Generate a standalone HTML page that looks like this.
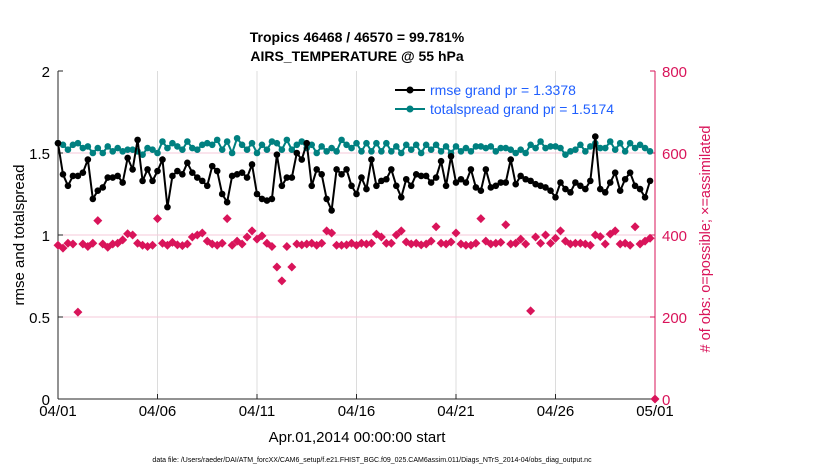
<!DOCTYPE html>
<html><head><meta charset="utf-8"><style>
body{margin:0;background:#fff;width:830px;height:470px;overflow:hidden}
svg{font-family:"Liberation Sans",sans-serif}
</style></head><body>
<svg id="chart" width="830" height="470">
<text x="357" y="42" text-anchor="middle" font-size="14" font-weight="bold">Tropics 46468 / 46570 = 99.781%</text>
<text x="357" y="61" text-anchor="middle" font-size="14" font-weight="bold">AIRS_TEMPERATURE @ 55 hPa</text>
<g id="grid"></g><g id="axes"></g><g id="marks"></g>
<text transform="translate(24,235) rotate(-90)" text-anchor="middle" font-size="15">rmse and totalspread</text>
<text transform="translate(710,239) rotate(-90)" text-anchor="middle" font-size="14.5" fill="#d9145a"># of obs: o=possible; ×=assimilated</text>
<text x="357" y="442" text-anchor="middle" font-size="15">Apr.01,2014 00:00:00 start</text>
<text x="372" y="462" text-anchor="middle" font-size="7">data file: /Users/raeder/DAI/ATM_forcXX/CAM6_setup/f.e21.FHIST_BGC.f09_025.CAM6assim.011/Diags_NTrS_2014-04/obs_diag_output.nc</text>
<g>
<line x1="395" y1="90" x2="425" y2="90" stroke="#000" stroke-width="2"/><circle cx="410" cy="90" r="3.5" fill="#000"/>
<text x="430" y="95" font-size="14" fill="#1f5fff">rmse grand pr = 1.3378</text>
<line x1="395" y1="109" x2="425" y2="109" stroke="#008080" stroke-width="2"/><circle cx="410" cy="109" r="3.5" fill="#008080"/>
<text x="430" y="114" font-size="14" fill="#1f5fff">totalspread grand pr = 1.5174</text>
</g>
</svg>
<script>
const xTicks=["04/01","04/06","04/11","04/16","04/21","04/26","05/01"];
const yTicks=[0,0.5,1,1.5,2];
const y2Ticks=[0,200,400,600,800];
const rmse=[1.56,1.37,1.30,1.36,1.36,1.38,1.46,1.22,1.27,1.29,1.35,1.35,1.36,1.32,1.47,1.40,
1.58,1.33,1.40,1.33,1.39,1.46,1.17,1.36,
1.39,1.37,1.44,1.38,1.35,1.33,1.30,1.42,1.39,1.25,1.20,1.36,1.37,1.38,1.35,1.43,
1.25,1.22,1.21,1.22,1.49,1.30,1.35,1.35,1.50,1.46,1.56,1.30,1.40,1.37,1.22,1.15,
1.40,1.37,1.40,1.30,1.25,1.35,1.28,1.46,1.30,1.33,1.34,1.40,1.30,1.23,1.34,1.30,1.37,1.36,1.36,1.32,1.35,1.45,1.30,1.48,1.32,1.34,1.32,1.40,1.29,1.27,1.40,1.29,1.30,1.32,1.32,1.46,1.31,1.36,1.34,1.33,1.31,1.30,1.29,1.27,1.23,1.32,1.28,1.26,1.32,1.30,1.28,1.33,
1.60,1.28,1.26,1.32,1.38,1.27,1.34,1.38,1.30,1.28,1.23,1.33];
const spread=[1.56,1.55,1.52,1.55,1.56,1.53,1.54,1.50,1.53,1.50,1.54,1.51,1.53,1.51,1.52,1.52,1.51,1.49,1.53,1.52,1.50,1.57,1.53,1.56,1.54,1.52,1.57,1.53,1.52,1.55,1.56,1.55,1.58,1.52,1.57,1.50,1.59,1.55,1.52,1.56,1.50,1.55,1.52,1.57,1.56,1.52,1.58,1.52,1.55,1.57,1.53,1.55,1.50,1.54,1.51,1.53,1.51,1.58,1.55,1.53,1.56,1.51,1.56,1.51,1.56,1.51,1.56,1.51,1.54,1.50,1.55,1.52,1.55,1.50,1.55,1.52,1.55,1.51,1.54,1.50,1.54,1.51,1.53,1.51,1.54,1.54,1.53,1.54,1.51,1.53,1.53,1.52,1.50,1.52,1.50,1.55,1.53,1.57,1.53,1.54,1.54,1.53,1.49,1.51,1.52,1.55,1.51,1.54,1.56,1.53,1.53,1.57,1.52,1.56,1.51,1.56,1.53,1.55,1.53,1.51];
const obs=[375,368,380,378,212,378,372,380,435,378,370,378,380,388,403,400,380,375,372,375,440,380,375,382,376,374,378,395,400,405,385,378,375,380,440,375,385,378,395,410,390,398,380,372,322,288,372,322,378,376,378,380,375,380,410,405,375,375,376,380,375,380,378,380,402,395,380,380,400,410,383,378,380,376,378,385,420,380,378,383,405,378,375,375,380,440,385,378,380,382,425,378,380,390,378,215,395,380,400,380,392,410,385,378,380,380,378,375,400,396,378,402,410,378,380,375,420,378,385,392];
const X0=58,X1=655,Y0=399,Y1=71;
const xs=i=>X0+(i*0.25)*(X1-X0)/30;
const ys=v=>Y0-(v/2)*(Y0-Y1);
const ys2=v=>Y0-(v/800)*(Y0-Y1);
const NS="http://www.w3.org/2000/svg";
function mk(p,t,a){const e=document.createElementNS(NS,t);for(const k in a)e.setAttribute(k,a[k]);p.appendChild(e);return e;}
const grid=document.getElementById('grid'),axes=document.getElementById('axes'),marks=document.getElementById('marks');
xTicks.forEach((t,i)=>{const x=X0+i*(X1-X0)/6;
 const g=mk(grid,'line',{x1:x,x2:x,y1:Y1,y2:Y0,stroke:'#dcdcdc','stroke-width':1});
 
 
 mk(axes,'line',{x1:x,x2:x,y1:Y0,y2:Y0-5,stroke:'#262626'});
 const tx=mk(axes,'text',{x:x,y:Y0+17,'text-anchor':'middle','font-size':15});tx.textContent=t;
 
 
});
y2Ticks.forEach(v=>{const y=ys2(v);
 if(v>0&&v<800){const g=mk(grid,'line',{x1:X0,x2:X1,y1:y,y2:y,stroke:'#f6c8d8','stroke-width':1});
 
 }
 mk(axes,'line',{x1:X1,x2:X1-5,y1:y,y2:y,stroke:'#d9145a'});
 const tx=mk(axes,'text',{x:X1+7,y:y+6,'font-size':15,fill:'#d9145a'});tx.textContent=v;
 
 
});
yTicks.forEach(v=>{const y=ys(v);
 mk(axes,'line',{x1:X0,x2:X0+5,y1:y,y2:y,stroke:'#262626'});
 const tx=mk(axes,'text',{x:X0-8,y:y+6,'text-anchor':'end','font-size':15});tx.textContent=v;
 
 
});
mk(axes,'line',{x1:X0,x2:X0,y1:Y1,y2:Y0,stroke:'#262626'});
mk(axes,'line',{x1:X0,x2:X1,y1:Y0,y2:Y0,stroke:'#262626'});
mk(axes,'line',{x1:X1,x2:X1,y1:Y1,y2:Y0,stroke:'#d9145a'});
obs.forEach((v,i)=>{const x=xs(i),y=ys2(v);
 const d=mk(marks,'path',{d:`M${x-4.5},${y}L${x},${y-4.5}L${x+4.5},${y}L${x},${y+4.5}Z`,fill:'#d9145a'});
 
 
});
const zd=mk(marks,'path',{d:`M${X1-4.5},${Y0}L${X1},${Y0-4.5}L${X1+4.5},${Y0}L${X1},${Y0+4.5}Z`,fill:'#d9145a'});


function series(arr,col,name){
 const p=mk(marks,'polyline',{points:arr.map((v,i)=>xs(i)+','+ys(v)).join(' '),fill:'none',stroke:col,'stroke-width':2});
 
 
 arr.forEach((v,i)=>{const c=mk(marks,'circle',{cx:xs(i),cy:ys(v),r:3.3,fill:col});
  
  });
}
series(spread,'#008080','totalspread');
series(rmse,'#000','rmse');
</script>
</body></html>
